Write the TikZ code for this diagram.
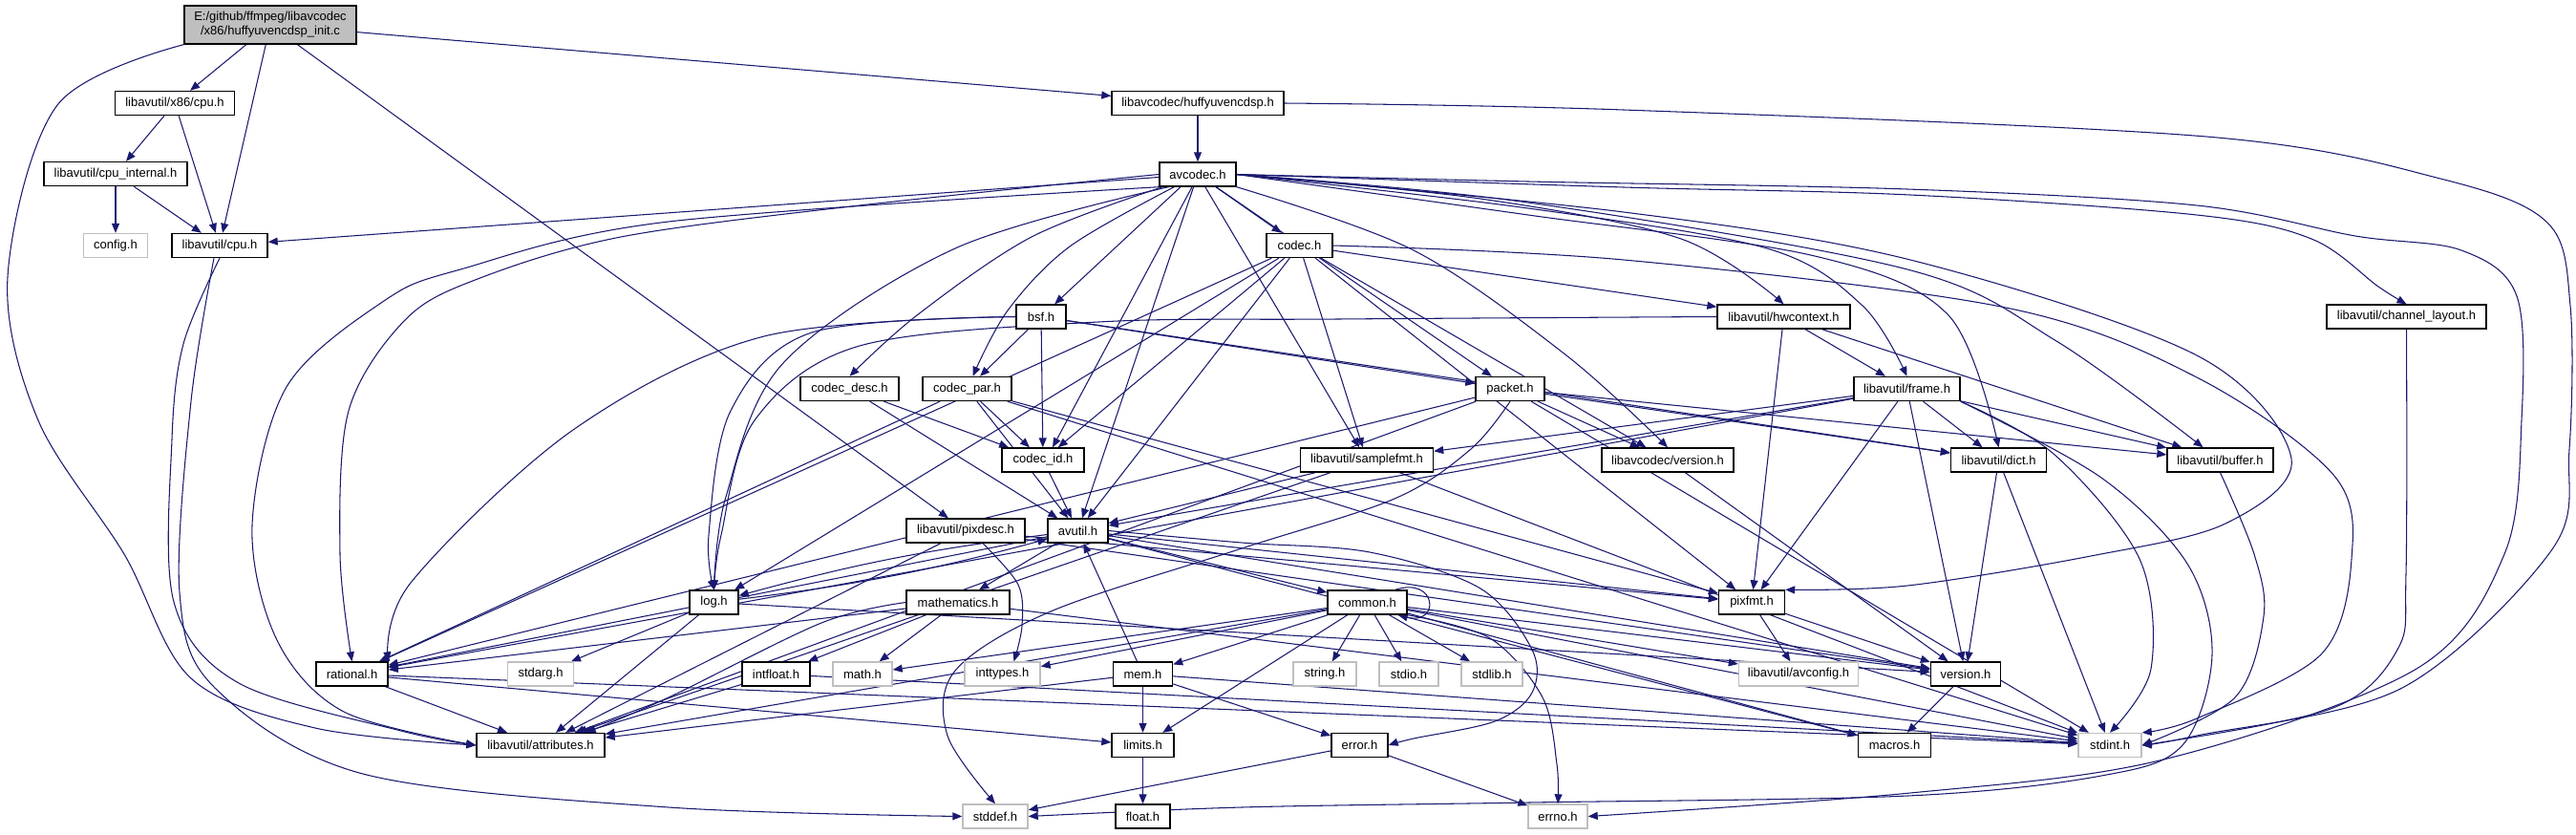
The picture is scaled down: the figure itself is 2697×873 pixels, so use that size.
\documentclass[tikz,border=0pt]{standalone}
\usepackage{fontspec}
\setmainfont{Liberation Sans}
\usetikzlibrary{arrows.meta,calc}
\definecolor{edgec}{RGB}{25,25,112}
\definecolor{grayb}{RGB}{191,191,191}
\pgfdeclarelayer{back}
\pgfdeclarelayer{bg}
\pgfsetlayers{back,bg,main}
\begin{document}
\begin{tikzpicture}[x=0.02cm,y=-0.02cm,
  nb/.style={draw=black, line width=0.8pt, fill=white, minimum height=0.5cm, inner sep=0pt, font=\fontsize{7.4pt}{8.6pt}\selectfont},
  gb/.style={nb, draw=grayb},
  wd/.style={minimum width=#1*0.02cm},
  ln/.style={draw=edgec, line width=0.6pt, -{Triangle[length=0.2cm,width=0.16cm]}},
  sm/.style={smooth, tension=0.55}]
\begin{pgfonlayer}{back}
\fill[white] (0,0) rectangle (2697,873);
\end{pgfonlayer}
\useasboundingbox (0,0) rectangle (2697,873);
% nodes
\node[nb,wd=180,minimum height=0.8cm,fill=grayb,align=center] (main) at (283,26) {E:/github/ffmpeg/libavcodec\\/x86/huffyuvencdsp\_init.c};
\node[nb,wd=125] (x86) at (183,108) {libavutil/x86/cpu.h};
\node[nb,wd=150] (cpuint) at (121,182) {libavutil/cpu\_internal.h};
\node[gb,wd=67] (config) at (121,257) {config.h};
\node[nb,wd=100] (cpu) at (230,257) {libavutil/cpu.h};
\node[nb,wd=180] (huffy) at (1254,108) {libavcodec/huffyuvencdsp.h};
\node[nb,wd=80] (avcodec) at (1254,182.5) {avcodec.h};
\node[nb,wd=69] (codec) at (1360.5,257) {codec.h};
\node[nb,wd=52] (bsf) at (1090,331.5) {bsf.h};
\node[nb,wd=167] (chlayout) at (2519.5,331.5) {libavutil/channel\_layout.h};
\node[nb,wd=139] (hwctx) at (1867.5,331.5) {libavutil/hwcontext.h};
\node[nb,wd=103] (codecdesc) at (889.5,407) {codec\_desc.h};
\node[nb,wd=93] (codecpar) at (1012.5,407) {codec\_par.h};
\node[nb,wd=72] (packet) at (1581,407) {packet.h};
\node[nb,wd=111] (frame) at (1996.5,407) {libavutil/frame.h};
\node[nb,wd=86] (codecid) at (1092,481.5) {codec\_id.h};
\node[nb,wd=139] (samplefmt) at (1431,481.5) {libavutil/samplefmt.h};
\node[nb,wd=138] (lcversion) at (1746,481.5) {libavcodec/version.h};
\node[nb,wd=100] (dict) at (2092.5,481.5) {libavutil/dict.h};
\node[nb,wd=111] (buffer) at (2324.5,481.5) {libavutil/buffer.h};
\node[nb,wd=124] (pixdesc) at (1011,555.5) {libavutil/pixdesc.h};
\node[nb,wd=63] (avutil) at (1128.5,555.5) {avutil.h};
\node[nb,wd=51] (log) at (747.5,630.5) {log.h};
\node[nb,wd=108] (mathematics) at (1003,630.5) {mathematics.h};
\node[nb,wd=83] (common) at (1431.5,630.5) {common.h};
\node[nb,wd=69] (pixfmt) at (1834,630.5) {pixfmt.h};
\node[nb,wd=75] (rational) at (368.5,705.5) {rational.h};
\node[gb,wd=69] (stdarg) at (566,705.5) {stdarg.h};
\node[nb,wd=71] (intfloat) at (812.5,705.5) {intfloat.h};
\node[gb,wd=62] (math) at (903,705.5) {math.h};
\node[gb,wd=79] (inttypes) at (1049.5,705.5) {inttypes.h};
\node[nb,wd=62] (mem) at (1196.5,705.5) {mem.h};
\node[gb,wd=66] (string) at (1387,705.5) {string.h};
\node[gb,wd=62] (stdio) at (1475,705.5) {stdio.h};
\node[gb,wd=64] (stdlib) at (1562,705.5) {stdlib.h};
\node[gb,wd=125] (avconfig) at (1883,705.5) {libavutil/avconfig.h};
\node[nb,wd=73] (version) at (2058,705.5) {version.h};
\node[nb,wd=134] (attr) at (566,780) {libavutil/attributes.h};
\node[nb,wd=65] (limits) at (1196.5,780) {limits.h};
\node[nb,wd=59] (error) at (1423.5,780) {error.h};
\node[nb,wd=76] (macros) at (1983.5,780) {macros.h};
\node[gb,wd=66] (stdint) at (2209,780) {stdint.h};
\node[gb,wd=68] (stddef) at (1042,854.5) {stddef.h};
\node[nb,wd=57] (float) at (1196.5,854.5) {float.h};
\node[gb,wd=62] (errno) at (1631,854.5) {errno.h};
\begin{pgfonlayer}{bg}
% main
\draw[ln] (main) -- (huffy);
\draw[ln] (main) -- (x86);
\draw[ln] (main) -- (cpu);
\draw[ln] (main) -- (pixdesc);
\draw[ln] plot[sm] coordinates {(main.south west) (60,110) (8,290) (40,440) (130,580) (200,710) (330,762) (attr.west)};
% x86 / cpu_internal / cpu
\draw[ln] (x86) -- (cpuint);
\draw[ln] (x86) -- (cpu);
\draw[ln] (cpuint) -- (config);
\draw[ln] (cpuint) -- (cpu);
\draw[ln] plot[sm] coordinates {(cpu.south) (192,360) (180,460) (182,630) (250,715) (420,765) (attr.west)};
\draw[ln] plot[sm] coordinates {($(cpu.south)+(-6,0)$) (200,420) (188,620) (225,720) (380,810) (700,845) (stddef.west)};
% huffyuvencdsp
\draw[ln] (huffy) -- (avcodec);
\draw[ln] plot[sm] coordinates {(huffy.east) (1700,115) (2310,143) (2555,187) (2667,233) (2691,320) (2690,470) (2672,575) (2515,720) (2300,770) (stdint.east)};
% avcodec
\draw[ln] plot[sm] coordinates {(avcodec.east) (1600,190) (1997,198) (2300,215) (2466,247) (2577,262) (2635,310) (2640,440) (2622,580) (2530,700) (2265,795) (2000,830) (errno.east)};
\draw[ln] (avcodec) -- (samplefmt);
\draw[ln] plot[sm] coordinates {(avcodec.south west) (700,232) (482,282) (402,315) (300,405) (264,550) (290,670) (360,745) (attr.west)};
\draw[ln] (avcodec) -- (avutil);
\draw[ln] plot[sm] coordinates {(avcodec.east) (1600,212) (1997,282) (2153,357) ($(buffer.north)+(-18,0)$)};
\draw[ln] (avcodec) -- (cpu);
\draw[ln] plot[sm] coordinates {(avcodec.east) (1700,196) (2000,204) (2300,225) (2420,250) (2490,300) (chlayout.north)};
\draw[ln] plot[sm] coordinates {(avcodec.east) (1600,225) (1900,268) (2040,330) (dict.north)};
\draw[ln] plot[sm] coordinates {(avcodec.east) (1600,218) (1850,260) (1950,320) (frame.north)};
\draw[ln] plot[sm] coordinates {(avcodec.east) (1550,208) (1760,250) (hwctx.north)};
\draw[ln] plot[sm] coordinates {($(avcodec.south west)+(10,0)$) (1000,260) (820,380) (760,520) (log.north)};
\draw[ln] plot[sm] coordinates {(avcodec.east) (1700,222) (2000,272) (2300,372) (2399,480) (2330,548) (2189,582) (1997,613) (pixfmt.north east)};
\draw[ln] plot[sm] coordinates {(avcodec.west) (900,215) (650,248) (500,292) (424,335) (365,430) (356,580) (rational.north)};
\draw[ln] ($(avcodec.south)+(-18,0)$) -- (bsf);
\draw[ln] (avcodec) -- (codec);
\draw[ln] plot[sm] coordinates {($(avcodec.south west)+(4,0)$) (1080,248) (960,330) (codecdesc.north)};
\draw[ln] plot[sm] coordinates {($(avcodec.south west)+(16,0)$) (1120,258) (1055,325) ($(codecpar.north)+(6,0)$)};
\draw[ln] ($(avcodec.south)+(-6,0)$) -- ($(codecid.north)+(10,0)$);
\draw[ln] (avcodec) -- (packet);
\draw[ln] plot[sm] coordinates {(avcodec.south east) (1480,262) (1640,372) (lcversion.north)};
% codec
\draw[ln] plot[sm] coordinates {(codec.east) (1700,272) (2100,322) (2300,395) (2443,497) (2462,585) (2430,685) (2300,752) (stdint.north east)};
\draw[ln] (codec) -- (avutil);
\draw[ln] (codec) -- (hwctx);
\draw[ln] (codec) -- (log);
\draw[ln] (codec) -- (pixfmt);
\draw[ln] (codec) -- (rational);
\draw[ln] (codec) -- (samplefmt);
\draw[ln] (codec) -- (lcversion);
\draw[ln] (codec) -- (codecid);
% bsf
\draw[ln] (bsf) -- (dict);
\draw[ln] plot[sm] coordinates {(bsf.west) (850,348) (765,430) (742,560) (log.north)};
\draw[ln] plot[sm] coordinates {(bsf.west) (800,352) (600,450) (430,610) (rational.north east)};
\draw[ln] (bsf) -- (codecid);
\draw[ln] (bsf) -- (codecpar);
\draw[ln] (bsf) -- (packet);
% codec_desc, codec_par, codec_id
\draw[ln] (codecdesc) -- (avutil);
\draw[ln] (codecdesc) -- (codecid);
\draw[ln] (codecpar) -- (stdint);
\draw[ln] (codecpar) -- (avutil);
\draw[ln] (codecpar) -- (rational);
\draw[ln] (codecpar) -- (pixfmt);
\draw[ln] (codecpar) -- (codecid);
\draw[ln] (codecid) -- (avutil);
% packet
\draw[ln] (packet) -- (attr);
\draw[ln] (packet) -- (rational);
\draw[ln] (packet) -- (buffer);
\draw[ln] (packet) -- (dict);
\draw[ln] (packet) -- (lcversion);
\draw[ln] (packet) -- (stdint);
\draw[ln] plot[sm] coordinates {(packet.south) (1540,470) (1460,522) (1297,575) (1100,640) (1000,702) (992,770) (stddef.north)};
% hwcontext
\draw[ln] (hwctx) -- (buffer);
\draw[ln] (hwctx) -- (frame);
\draw[ln] (hwctx) -- (pixfmt);
\draw[ln] plot[sm] coordinates {(hwctx.west) (1400,334) (1150,337) (900,362) (790,440) (755,560) (log.north)};
% frame
\draw[ln] (frame) -- (avutil);
\draw[ln] (frame) -- (buffer);
\draw[ln] (frame) -- (dict);
\draw[ln] (frame) -- (rational);
\draw[ln] (frame) -- (samplefmt);
\draw[ln] (frame) -- (pixfmt);
\draw[ln] (frame) -- (version);
\draw[ln] plot[sm] coordinates {(frame.south east) (2200,500) (2290,590) (2316,685) (2285,780) (2200,812) (1997,833) (1600,840) (1300,845) (stddef.east)};
\draw[ln] plot[sm] coordinates {(frame.south east) (2150,475) (2240,585) (2252,700) (stdint.north)};
% samplefmt, dict, buffer, lcversion, chlayout
\draw[ln] (samplefmt) -- (attr);
\draw[ln] (samplefmt) -- (avutil);
\draw[ln] (samplefmt) -- (stdint);
\draw[ln] (dict) -- (stdint);
\draw[ln] (dict) -- (version);
\draw[ln] plot[sm] coordinates {(buffer.south) (2360,580) (2370,645) (2340,730) (stdint.east)};
\draw[ln] (lcversion) -- (version);
\draw[ln] plot[sm] coordinates {(chlayout.south) (2519,600) (2510,680) (2440,742) (stdint.east)};
% pixdesc
\draw[ln] plot[sm] coordinates {($(pixdesc.south)+(18,0)$) (1066,612) (1070,655) ($(inttypes.north)+(12,0)$)};
\draw[ln] (pixdesc) -- (attr);
\draw[ln] (pixdesc) -- (pixfmt);
\draw[ln] (pixdesc) -- (version);
% avutil
\draw[ln] (avutil) -- (common);
\draw[ln] plot[sm] coordinates {(avutil.east) (1300,568) (1434,578) (1550,616) (1604,680) (1604,725) (1565,755) (1480,773) (error.east)};
\draw[ln] (avutil) -- (rational);
\draw[ln] (avutil) -- (version);
\draw[ln] (avutil) -- (macros);
\draw[ln] (avutil) -- (mathematics);
\draw[ln] (avutil) to[bend right=4] (log);
\draw[ln] (avutil) -- (pixfmt);
% common
\draw[ln] (common) -- (attr);
\draw[ln] (common) -- (macros);
\draw[ln] (common) -- (version);
\draw[ln] (common) -- (avconfig);
\draw[ln] plot[sm] coordinates {(common.south east) (1560,668) (1615,730) (1630,800) (errno.north)};
\draw[ln] (common) -- (inttypes);
\draw[ln] (common) -- (limits);
\draw[ln] (common) -- (math);
\draw[ln] (common) -- (stdint);
\draw[ln] (common) -- (stdio);
\draw[ln] (common) -- (stdlib);
\draw[ln] (common) -- (string);
\draw[ln] (common) -- (mem);
\draw[ln] ($(common.north east)+(-13,0)$) .. controls (1505,603) and (1508,655) .. ($(common.south east)+(-10,0)$);
% mathematics
\draw[ln] (mathematics) -- (stdint);
\draw[ln] (mathematics) -- (math);
\draw[ln] plot[sm] coordinates {(mathematics.west) (860,652) (700,730) ($(attr.north east)+(-20,0)$)};
\draw[ln] (mathematics) -- (rational);
\draw[ln] (mathematics) -- (intfloat);
% log
\draw[ln] (log) -- (stdarg);
\draw[ln] (log) to[bend right=4] (avutil);
\draw[ln] (log) -- (attr);
\draw[ln] (log) -- (version);
% rational, intfloat, mem, limits, error, pixfmt, version
\draw[ln] (rational) -- (stdint);
\draw[ln] (rational) -- (limits);
\draw[ln] (rational) -- (attr);
\draw[ln] (intfloat) -- (stdint);
\draw[ln] (intfloat) -- (attr);
\draw[ln] (mem) -- (attr);
\draw[ln] (mem) -- (error);
\draw[ln] (mem) -- (avutil);
\draw[ln] (mem) -- (limits);
\draw[ln] (mem) -- (stdint);
\draw[ln] (limits) -- (float);
\draw[ln] (error) -- (errno);
\draw[ln] (error) -- (stddef);
\draw[ln] (pixfmt) -- (avconfig);
\draw[ln] (pixfmt) -- (version);
\draw[ln] (version) -- (macros);
\end{pgfonlayer}
\end{tikzpicture}
\end{document}
